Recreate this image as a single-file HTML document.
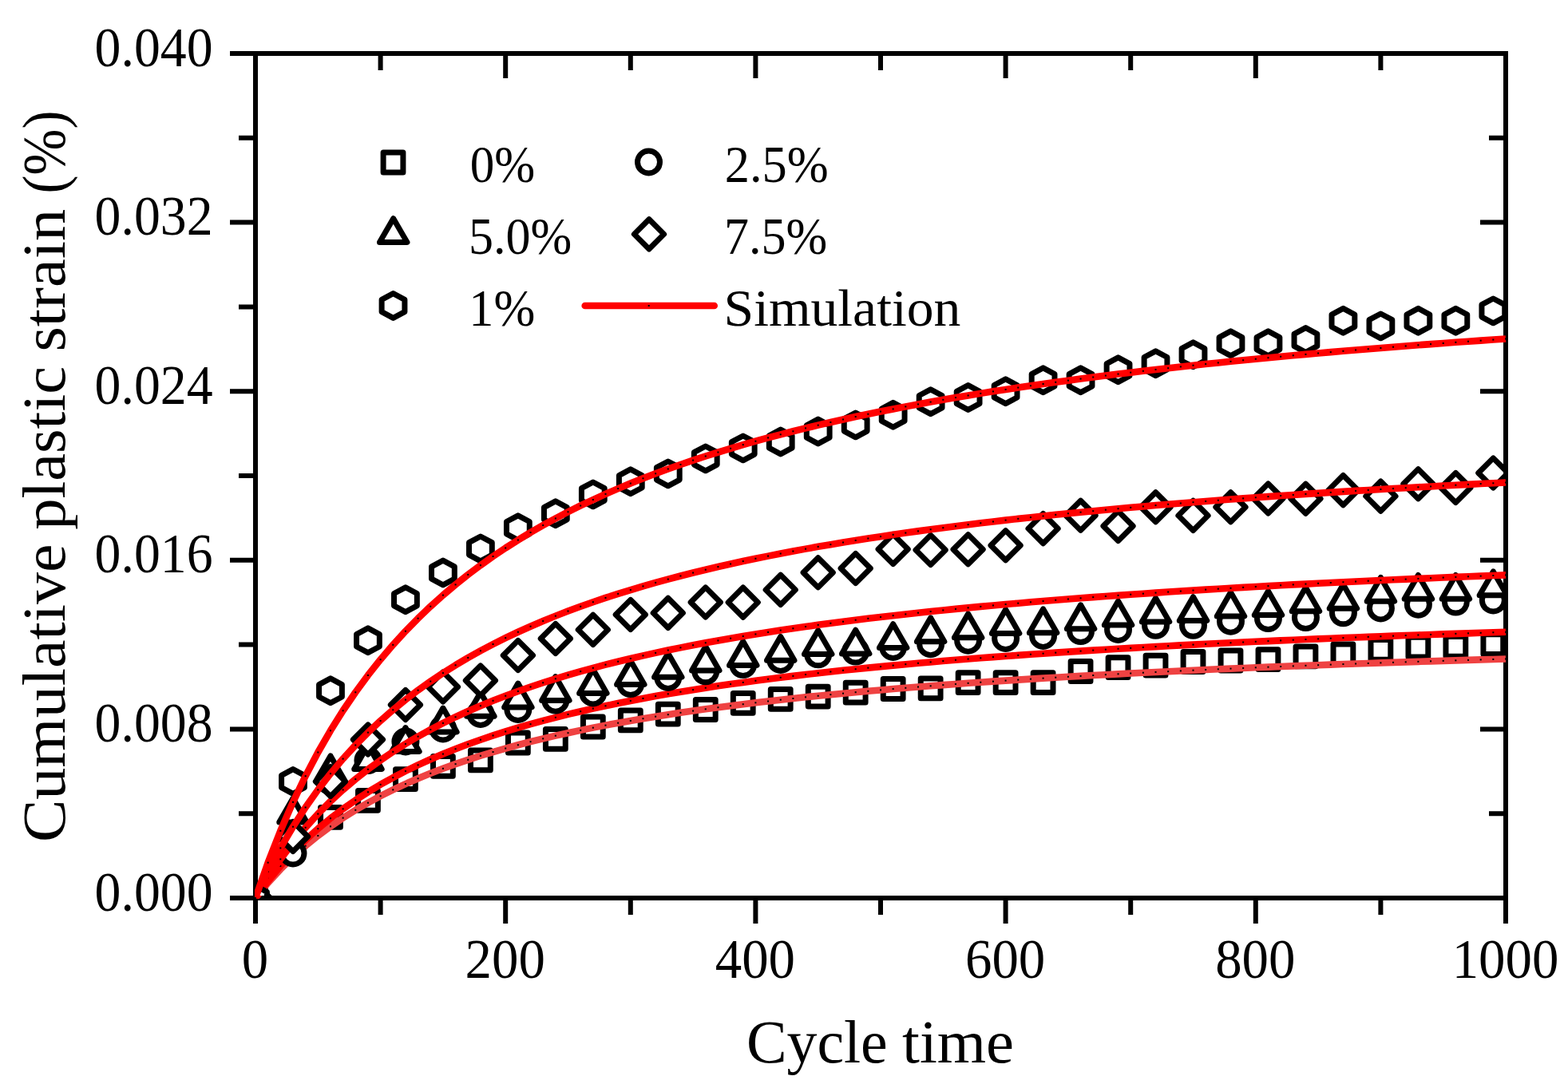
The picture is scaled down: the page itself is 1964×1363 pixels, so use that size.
<!DOCTYPE html>
<html><head><meta charset="utf-8"><title>Cumulative plastic strain vs cycle time</title>
<style>
html,body{margin:0;padding:0;background:#fff;}
body{width:1964px;height:1363px;overflow:hidden;}
svg{display:block;}
text{font-family:"Liberation Serif","DejaVu Serif",serif;fill:#000;}
</style></head><body>
<svg width="1964" height="1363" viewBox="0 0 1964 1363">
<defs><clipPath id="pc"><rect x="323" y="70" width="1560" height="1052"/></clipPath><clipPath id="lc"><rect x="319" y="60" width="1575" height="1065.5"/></clipPath></defs>
<rect width="1964" height="1363" fill="#fff"/>
<g stroke="#000" stroke-width="6" fill="none" stroke-linecap="butt"><path d="M320 64V1157M1886 64V1157M317 67H1889M288 1125H1889"/><path d="M288 1125H320M1854 1125H1886"/><path d="M288 913.4H320M1854 913.4H1886"/><path d="M288 701.8H320M1854 701.8H1886"/><path d="M288 490.2H320M1854 490.2H1886"/><path d="M288 278.6H320M1854 278.6H1886"/><path d="M288 67H320M1854 67H1886"/><path d="M299 1019.2H320M1865 1019.2H1886"/><path d="M299 807.6H320M1865 807.6H1886"/><path d="M299 596H320M1865 596H1886"/><path d="M299 384.4H320M1865 384.4H1886"/><path d="M299 172.8H320M1865 172.8H1886"/><path d="M320 1125V1157M320 67V98"/><path d="M633.2 1125V1157M633.2 67V98"/><path d="M946.4 1125V1157M946.4 67V98"/><path d="M1259.6 1125V1157M1259.6 67V98"/><path d="M1572.8 1125V1157M1572.8 67V98"/><path d="M1886 1125V1157M1886 67V98"/><path d="M476.6 1125V1146M476.6 67V88"/><path d="M789.8 1125V1146M789.8 67V88"/><path d="M1103 1125V1146M1103 67V88"/><path d="M1416.2 1125V1146M1416.2 67V88"/><path d="M1729.4 1125V1146M1729.4 67V88"/></g>
<g clip-path="url(#pc)" fill="#fff" stroke="#000" stroke-width="7" stroke-linejoin="round"><rect x="307.6" y="1112.6" width="24.8" height="24.8"/><rect x="354.58" y="1049.6" width="24.8" height="24.8"/><rect x="401.56" y="1011.5" width="24.8" height="24.8"/><rect x="448.54" y="990.4" width="24.8" height="24.8"/><rect x="495.52" y="963.7" width="24.8" height="24.8"/><rect x="542.5" y="947.5" width="24.8" height="24.8"/><rect x="589.48" y="940" width="24.8" height="24.8"/><rect x="636.46" y="918.1" width="24.8" height="24.8"/><rect x="683.44" y="913.5" width="24.8" height="24.8"/><rect x="730.42" y="898.1" width="24.8" height="24.8"/><rect x="777.4" y="889.9" width="24.8" height="24.8"/><rect x="824.38" y="882.3" width="24.8" height="24.8"/><rect x="871.36" y="876.6" width="24.8" height="24.8"/><rect x="918.34" y="868.5" width="24.8" height="24.8"/><rect x="965.32" y="863.4" width="24.8" height="24.8"/><rect x="1012.3" y="860.3" width="24.8" height="24.8"/><rect x="1059.28" y="855.3" width="24.8" height="24.8"/><rect x="1106.26" y="850.6" width="24.8" height="24.8"/><rect x="1153.24" y="849.9" width="24.8" height="24.8"/><rect x="1200.22" y="842.7" width="24.8" height="24.8"/><rect x="1247.2" y="842.7" width="24.8" height="24.8"/><rect x="1294.18" y="842.7" width="24.8" height="24.8"/><rect x="1341.16" y="828.6" width="24.8" height="24.8"/><rect x="1388.14" y="823.8" width="24.8" height="24.8"/><rect x="1435.12" y="821.3" width="24.8" height="24.8"/><rect x="1482.1" y="816.6" width="24.8" height="24.8"/><rect x="1529.08" y="815.1" width="24.8" height="24.8"/><rect x="1576.06" y="813.8" width="24.8" height="24.8"/><rect x="1623.04" y="809.9" width="24.8" height="24.8"/><rect x="1670.02" y="806.9" width="24.8" height="24.8"/><rect x="1717" y="801.5" width="24.8" height="24.8"/><rect x="1763.98" y="798.3" width="24.8" height="24.8"/><rect x="1810.96" y="797.4" width="24.8" height="24.8"/><rect x="1857.94" y="794.7" width="24.8" height="24.8"/></g>
<g clip-path="url(#lc)"><polyline fill="none" stroke-width="8.6" stroke-linejoin="round" stroke="#ef4242" points="320,1125 335.66,1106.03 351.32,1089 366.98,1073.62 382.64,1059.68 398.3,1046.97 413.96,1035.33 429.62,1024.65 445.28,1014.8 460.94,1005.69 476.6,997.25 492.26,989.39 507.92,982.07 523.58,975.22 539.24,968.81 554.9,962.8 570.56,957.14 586.22,951.81 601.88,946.78 617.54,942.02 633.2,937.52 648.86,933.25 664.52,929.2 680.18,925.34 695.84,921.67 711.5,918.18 727.16,914.84 742.82,911.66 758.48,908.61 774.14,905.7 789.8,902.91 805.46,900.23 821.12,897.66 836.78,895.19 852.44,892.82 868.1,890.54 883.76,888.34 899.42,886.23 915.08,884.19 930.74,882.22 946.4,880.32 962.06,878.49 977.72,876.71 993.38,875 1009.04,873.34 1024.7,871.74 1040.36,870.18 1056.02,868.68 1071.68,867.21 1087.34,865.8 1103,864.42 1118.66,863.09 1134.32,861.79 1149.98,860.53 1165.64,859.31 1181.3,858.12 1196.96,856.96 1212.62,855.83 1228.28,854.73 1243.94,853.66 1259.6,852.62 1275.26,851.61 1290.92,850.62 1306.58,849.65 1322.24,848.71 1337.9,847.8 1353.56,846.9 1369.22,846.02 1384.88,845.17 1400.54,844.34 1416.2,843.52 1431.86,842.72 1447.52,841.94 1463.18,841.18 1478.84,840.43 1494.5,839.7 1510.16,838.99 1525.82,838.29 1541.48,837.61 1557.14,836.94 1572.8,836.28 1588.46,835.64 1604.12,835.01 1619.78,834.39 1635.44,833.79 1651.1,833.19 1666.76,832.61 1682.42,832.04 1698.08,831.48 1713.74,830.93 1729.4,830.39 1745.06,829.86 1760.72,829.34 1776.38,828.83 1792.04,828.33 1807.7,827.84 1823.36,827.35 1839.02,826.88 1854.68,826.41 1870.34,825.95 1886,825.5"/><g fill="#000"><rect x="319" y="1124" width="2" height="2"/><rect x="334.66" y="1105.03" width="2" height="2"/><rect x="350.32" y="1088" width="2" height="2"/><rect x="365.98" y="1072.62" width="2" height="2"/><rect x="381.64" y="1058.68" width="2" height="2"/><rect x="397.3" y="1045.97" width="2" height="2"/><rect x="412.96" y="1034.33" width="2" height="2"/><rect x="428.62" y="1023.65" width="2" height="2"/><rect x="444.28" y="1013.8" width="2" height="2"/><rect x="459.94" y="1004.69" width="2" height="2"/><rect x="475.6" y="996.25" width="2" height="2"/><rect x="491.26" y="988.39" width="2" height="2"/><rect x="506.92" y="981.07" width="2" height="2"/><rect x="522.58" y="974.22" width="2" height="2"/><rect x="538.24" y="967.81" width="2" height="2"/><rect x="553.9" y="961.8" width="2" height="2"/><rect x="569.56" y="956.14" width="2" height="2"/><rect x="585.22" y="950.81" width="2" height="2"/><rect x="600.88" y="945.78" width="2" height="2"/><rect x="616.54" y="941.02" width="2" height="2"/><rect x="632.2" y="936.52" width="2" height="2"/><rect x="647.86" y="932.25" width="2" height="2"/><rect x="663.52" y="928.2" width="2" height="2"/><rect x="679.18" y="924.34" width="2" height="2"/><rect x="694.84" y="920.67" width="2" height="2"/><rect x="710.5" y="917.18" width="2" height="2"/><rect x="726.16" y="913.84" width="2" height="2"/><rect x="741.82" y="910.66" width="2" height="2"/><rect x="757.48" y="907.61" width="2" height="2"/><rect x="773.14" y="904.7" width="2" height="2"/><rect x="788.8" y="901.91" width="2" height="2"/><rect x="804.46" y="899.23" width="2" height="2"/><rect x="820.12" y="896.66" width="2" height="2"/><rect x="835.78" y="894.19" width="2" height="2"/><rect x="851.44" y="891.82" width="2" height="2"/><rect x="867.1" y="889.54" width="2" height="2"/><rect x="882.76" y="887.34" width="2" height="2"/><rect x="898.42" y="885.23" width="2" height="2"/><rect x="914.08" y="883.19" width="2" height="2"/><rect x="929.74" y="881.22" width="2" height="2"/><rect x="945.4" y="879.32" width="2" height="2"/><rect x="961.06" y="877.49" width="2" height="2"/><rect x="976.72" y="875.71" width="2" height="2"/><rect x="992.38" y="874" width="2" height="2"/><rect x="1008.04" y="872.34" width="2" height="2"/><rect x="1023.7" y="870.74" width="2" height="2"/><rect x="1039.36" y="869.18" width="2" height="2"/><rect x="1055.02" y="867.68" width="2" height="2"/><rect x="1070.68" y="866.21" width="2" height="2"/><rect x="1086.34" y="864.8" width="2" height="2"/><rect x="1102" y="863.42" width="2" height="2"/><rect x="1117.66" y="862.09" width="2" height="2"/><rect x="1133.32" y="860.79" width="2" height="2"/><rect x="1148.98" y="859.53" width="2" height="2"/><rect x="1164.64" y="858.31" width="2" height="2"/><rect x="1180.3" y="857.12" width="2" height="2"/><rect x="1195.96" y="855.96" width="2" height="2"/><rect x="1211.62" y="854.83" width="2" height="2"/><rect x="1227.28" y="853.73" width="2" height="2"/><rect x="1242.94" y="852.66" width="2" height="2"/><rect x="1258.6" y="851.62" width="2" height="2"/><rect x="1274.26" y="850.61" width="2" height="2"/><rect x="1289.92" y="849.62" width="2" height="2"/><rect x="1305.58" y="848.65" width="2" height="2"/><rect x="1321.24" y="847.71" width="2" height="2"/><rect x="1336.9" y="846.8" width="2" height="2"/><rect x="1352.56" y="845.9" width="2" height="2"/><rect x="1368.22" y="845.02" width="2" height="2"/><rect x="1383.88" y="844.17" width="2" height="2"/><rect x="1399.54" y="843.34" width="2" height="2"/><rect x="1415.2" y="842.52" width="2" height="2"/><rect x="1430.86" y="841.72" width="2" height="2"/><rect x="1446.52" y="840.94" width="2" height="2"/><rect x="1462.18" y="840.18" width="2" height="2"/><rect x="1477.84" y="839.43" width="2" height="2"/><rect x="1493.5" y="838.7" width="2" height="2"/><rect x="1509.16" y="837.99" width="2" height="2"/><rect x="1524.82" y="837.29" width="2" height="2"/><rect x="1540.48" y="836.61" width="2" height="2"/><rect x="1556.14" y="835.94" width="2" height="2"/><rect x="1571.8" y="835.28" width="2" height="2"/><rect x="1587.46" y="834.64" width="2" height="2"/><rect x="1603.12" y="834.01" width="2" height="2"/><rect x="1618.78" y="833.39" width="2" height="2"/><rect x="1634.44" y="832.79" width="2" height="2"/><rect x="1650.1" y="832.19" width="2" height="2"/><rect x="1665.76" y="831.61" width="2" height="2"/><rect x="1681.42" y="831.04" width="2" height="2"/><rect x="1697.08" y="830.48" width="2" height="2"/><rect x="1712.74" y="829.93" width="2" height="2"/><rect x="1728.4" y="829.39" width="2" height="2"/><rect x="1744.06" y="828.86" width="2" height="2"/><rect x="1759.72" y="828.34" width="2" height="2"/><rect x="1775.38" y="827.83" width="2" height="2"/><rect x="1791.04" y="827.33" width="2" height="2"/><rect x="1806.7" y="826.84" width="2" height="2"/><rect x="1822.36" y="826.35" width="2" height="2"/><rect x="1838.02" y="825.88" width="2" height="2"/><rect x="1853.68" y="825.41" width="2" height="2"/><rect x="1869.34" y="824.95" width="2" height="2"/><rect x="1885" y="824.5" width="2" height="2"/></g></g>
<g clip-path="url(#lc)"><polyline fill="none" stroke-width="8.6" stroke-linejoin="round" stroke="#ff0000" points="320,1125 335.66,1103.89 351.32,1084.95 366.98,1067.84 382.64,1052.33 398.3,1038.18 413.96,1025.24 429.62,1013.36 445.28,1002.4 460.94,992.27 476.6,982.87 492.26,974.13 507.92,965.98 523.58,958.37 539.24,951.24 554.9,944.54 570.56,938.25 586.22,932.32 601.88,926.72 617.54,921.43 633.2,916.42 648.86,911.67 664.52,907.16 680.18,902.88 695.84,898.8 711.5,894.91 727.16,891.2 742.82,887.65 758.48,884.27 774.14,881.02 789.8,877.92 805.46,874.94 821.12,872.08 836.78,869.33 852.44,866.7 868.1,864.16 883.76,861.71 899.42,859.36 915.08,857.09 930.74,854.9 946.4,852.79 962.06,850.75 977.72,848.78 993.38,846.87 1009.04,845.03 1024.7,843.24 1040.36,841.51 1056.02,839.83 1071.68,838.21 1087.34,836.63 1103,835.1 1118.66,833.62 1134.32,832.17 1149.98,830.77 1165.64,829.41 1181.3,828.09 1196.96,826.8 1212.62,825.54 1228.28,824.32 1243.94,823.13 1259.6,821.98 1275.26,820.85 1290.92,819.75 1306.58,818.67 1322.24,817.63 1337.9,816.6 1353.56,815.61 1369.22,814.63 1384.88,813.68 1400.54,812.75 1416.2,811.85 1431.86,810.96 1447.52,810.09 1463.18,809.24 1478.84,808.41 1494.5,807.6 1510.16,806.81 1525.82,806.03 1541.48,805.27 1557.14,804.52 1572.8,803.79 1588.46,803.08 1604.12,802.38 1619.78,801.69 1635.44,801.02 1651.1,800.36 1666.76,799.71 1682.42,799.07 1698.08,798.45 1713.74,797.84 1729.4,797.24 1745.06,796.65 1760.72,796.07 1776.38,795.5 1792.04,794.95 1807.7,794.4 1823.36,793.86 1839.02,793.33 1854.68,792.81 1870.34,792.3 1886,791.8"/><g fill="#000"><rect x="319" y="1124" width="2" height="2"/><rect x="334.66" y="1102.89" width="2" height="2"/><rect x="350.32" y="1083.95" width="2" height="2"/><rect x="365.98" y="1066.84" width="2" height="2"/><rect x="381.64" y="1051.33" width="2" height="2"/><rect x="397.3" y="1037.18" width="2" height="2"/><rect x="412.96" y="1024.24" width="2" height="2"/><rect x="428.62" y="1012.36" width="2" height="2"/><rect x="444.28" y="1001.4" width="2" height="2"/><rect x="459.94" y="991.27" width="2" height="2"/><rect x="475.6" y="981.87" width="2" height="2"/><rect x="491.26" y="973.13" width="2" height="2"/><rect x="506.92" y="964.98" width="2" height="2"/><rect x="522.58" y="957.37" width="2" height="2"/><rect x="538.24" y="950.24" width="2" height="2"/><rect x="553.9" y="943.54" width="2" height="2"/><rect x="569.56" y="937.25" width="2" height="2"/><rect x="585.22" y="931.32" width="2" height="2"/><rect x="600.88" y="925.72" width="2" height="2"/><rect x="616.54" y="920.43" width="2" height="2"/><rect x="632.2" y="915.42" width="2" height="2"/><rect x="647.86" y="910.67" width="2" height="2"/><rect x="663.52" y="906.16" width="2" height="2"/><rect x="679.18" y="901.88" width="2" height="2"/><rect x="694.84" y="897.8" width="2" height="2"/><rect x="710.5" y="893.91" width="2" height="2"/><rect x="726.16" y="890.2" width="2" height="2"/><rect x="741.82" y="886.65" width="2" height="2"/><rect x="757.48" y="883.27" width="2" height="2"/><rect x="773.14" y="880.02" width="2" height="2"/><rect x="788.8" y="876.92" width="2" height="2"/><rect x="804.46" y="873.94" width="2" height="2"/><rect x="820.12" y="871.08" width="2" height="2"/><rect x="835.78" y="868.33" width="2" height="2"/><rect x="851.44" y="865.7" width="2" height="2"/><rect x="867.1" y="863.16" width="2" height="2"/><rect x="882.76" y="860.71" width="2" height="2"/><rect x="898.42" y="858.36" width="2" height="2"/><rect x="914.08" y="856.09" width="2" height="2"/><rect x="929.74" y="853.9" width="2" height="2"/><rect x="945.4" y="851.79" width="2" height="2"/><rect x="961.06" y="849.75" width="2" height="2"/><rect x="976.72" y="847.78" width="2" height="2"/><rect x="992.38" y="845.87" width="2" height="2"/><rect x="1008.04" y="844.03" width="2" height="2"/><rect x="1023.7" y="842.24" width="2" height="2"/><rect x="1039.36" y="840.51" width="2" height="2"/><rect x="1055.02" y="838.83" width="2" height="2"/><rect x="1070.68" y="837.21" width="2" height="2"/><rect x="1086.34" y="835.63" width="2" height="2"/><rect x="1102" y="834.1" width="2" height="2"/><rect x="1117.66" y="832.62" width="2" height="2"/><rect x="1133.32" y="831.17" width="2" height="2"/><rect x="1148.98" y="829.77" width="2" height="2"/><rect x="1164.64" y="828.41" width="2" height="2"/><rect x="1180.3" y="827.09" width="2" height="2"/><rect x="1195.96" y="825.8" width="2" height="2"/><rect x="1211.62" y="824.54" width="2" height="2"/><rect x="1227.28" y="823.32" width="2" height="2"/><rect x="1242.94" y="822.13" width="2" height="2"/><rect x="1258.6" y="820.98" width="2" height="2"/><rect x="1274.26" y="819.85" width="2" height="2"/><rect x="1289.92" y="818.75" width="2" height="2"/><rect x="1305.58" y="817.67" width="2" height="2"/><rect x="1321.24" y="816.63" width="2" height="2"/><rect x="1336.9" y="815.6" width="2" height="2"/><rect x="1352.56" y="814.61" width="2" height="2"/><rect x="1368.22" y="813.63" width="2" height="2"/><rect x="1383.88" y="812.68" width="2" height="2"/><rect x="1399.54" y="811.75" width="2" height="2"/><rect x="1415.2" y="810.85" width="2" height="2"/><rect x="1430.86" y="809.96" width="2" height="2"/><rect x="1446.52" y="809.09" width="2" height="2"/><rect x="1462.18" y="808.24" width="2" height="2"/><rect x="1477.84" y="807.41" width="2" height="2"/><rect x="1493.5" y="806.6" width="2" height="2"/><rect x="1509.16" y="805.81" width="2" height="2"/><rect x="1524.82" y="805.03" width="2" height="2"/><rect x="1540.48" y="804.27" width="2" height="2"/><rect x="1556.14" y="803.52" width="2" height="2"/><rect x="1571.8" y="802.79" width="2" height="2"/><rect x="1587.46" y="802.08" width="2" height="2"/><rect x="1603.12" y="801.38" width="2" height="2"/><rect x="1618.78" y="800.69" width="2" height="2"/><rect x="1634.44" y="800.02" width="2" height="2"/><rect x="1650.1" y="799.36" width="2" height="2"/><rect x="1665.76" y="798.71" width="2" height="2"/><rect x="1681.42" y="798.07" width="2" height="2"/><rect x="1697.08" y="797.45" width="2" height="2"/><rect x="1712.74" y="796.84" width="2" height="2"/><rect x="1728.4" y="796.24" width="2" height="2"/><rect x="1744.06" y="795.65" width="2" height="2"/><rect x="1759.72" y="795.07" width="2" height="2"/><rect x="1775.38" y="794.5" width="2" height="2"/><rect x="1791.04" y="793.95" width="2" height="2"/><rect x="1806.7" y="793.4" width="2" height="2"/><rect x="1822.36" y="792.86" width="2" height="2"/><rect x="1838.02" y="792.33" width="2" height="2"/><rect x="1853.68" y="791.81" width="2" height="2"/><rect x="1869.34" y="791.3" width="2" height="2"/><rect x="1885" y="790.8" width="2" height="2"/></g></g>
<g clip-path="url(#pc)" fill="#fff" stroke="#000" stroke-width="7" stroke-linejoin="round"><circle cx="320" cy="1125" r="14"/><circle cx="366.98" cy="1069" r="14"/><circle cx="413.96" cy="979" r="14"/><circle cx="460.94" cy="952.6" r="14"/><circle cx="507.92" cy="929" r="14"/><circle cx="554.9" cy="913" r="14"/><circle cx="601.88" cy="894.4" r="14"/><circle cx="648.86" cy="888.5" r="14"/><circle cx="695.84" cy="877.2" r="14"/><circle cx="742.82" cy="867.9" r="14"/><circle cx="789.8" cy="856.6" r="14"/><circle cx="836.78" cy="848.4" r="14"/><circle cx="883.76" cy="840.8" r="14"/><circle cx="930.74" cy="832.6" r="14"/><circle cx="977.72" cy="826.4" r="14"/><circle cx="1024.7" cy="819.8" r="14"/><circle cx="1071.68" cy="816.1" r="14"/><circle cx="1118.66" cy="810.5" r="14"/><circle cx="1165.64" cy="806.7" r="14"/><circle cx="1212.62" cy="802.2" r="14"/><circle cx="1259.6" cy="799.5" r="14"/><circle cx="1306.58" cy="796.4" r="14"/><circle cx="1353.56" cy="790.6" r="14"/><circle cx="1400.54" cy="788.5" r="14"/><circle cx="1447.52" cy="783.3" r="14"/><circle cx="1494.5" cy="783.3" r="14"/><circle cx="1541.48" cy="778.2" r="14"/><circle cx="1588.46" cy="774.6" r="14"/><circle cx="1635.44" cy="773.6" r="14"/><circle cx="1682.42" cy="767.8" r="14"/><circle cx="1729.4" cy="761.9" r="14"/><circle cx="1776.38" cy="757.2" r="14"/><circle cx="1823.36" cy="754.1" r="14"/><circle cx="1870.34" cy="752" r="14"/></g>
<g clip-path="url(#pc)" fill="#fff" stroke="#000" stroke-width="7" stroke-linejoin="round"><path d="M320 1105.1L337.23 1134.95L302.77 1134.95Z"/><path d="M366.98 1000.1L384.21 1029.95L349.75 1029.95Z"/><path d="M413.96 946.9L431.19 976.75L396.73 976.75Z"/><path d="M460.94 933.6L478.17 963.45L443.71 963.45Z"/><path d="M507.92 911.6L525.15 941.45L490.69 941.45Z"/><path d="M554.9 887.1L572.13 916.95L537.67 916.95Z"/><path d="M601.88 867.5L619.11 897.35L584.65 897.35Z"/><path d="M648.86 856.1L666.09 885.95L631.63 885.95Z"/><path d="M695.84 847.6L713.07 877.45L678.61 877.45Z"/><path d="M742.82 838.6L760.05 868.45L725.59 868.45Z"/><path d="M789.8 827.7L807.03 857.55L772.57 857.55Z"/><path d="M836.78 818.4L854.01 848.25L819.55 848.25Z"/><path d="M883.76 810.1L900.99 839.95L866.53 839.95Z"/><path d="M930.74 803.6L947.97 833.45L913.51 833.45Z"/><path d="M977.72 797.5L994.95 827.35L960.49 827.35Z"/><path d="M1024.7 789.7L1041.93 819.55L1007.47 819.55Z"/><path d="M1071.68 789.2L1088.91 819.05L1054.45 819.05Z"/><path d="M1118.66 781.7L1135.89 811.55L1101.43 811.55Z"/><path d="M1165.64 773.9L1182.87 803.75L1148.41 803.75Z"/><path d="M1212.62 769L1229.85 798.85L1195.39 798.85Z"/><path d="M1259.6 763.6L1276.83 793.45L1242.37 793.45Z"/><path d="M1306.58 762.9L1323.81 792.75L1289.35 792.75Z"/><path d="M1353.56 757.8L1370.79 787.65L1336.33 787.65Z"/><path d="M1400.54 753.1L1417.77 782.95L1383.31 782.95Z"/><path d="M1447.52 749.2L1464.75 779.05L1430.29 779.05Z"/><path d="M1494.5 747.7L1511.73 777.55L1477.27 777.55Z"/><path d="M1541.48 742.1L1558.71 771.95L1524.25 771.95Z"/><path d="M1588.46 740.6L1605.69 770.45L1571.23 770.45Z"/><path d="M1635.44 735.9L1652.67 765.75L1618.21 765.75Z"/><path d="M1682.42 732.3L1699.65 762.15L1665.19 762.15Z"/><path d="M1729.4 723.4L1746.63 753.25L1712.17 753.25Z"/><path d="M1776.38 720.5L1793.61 750.35L1759.15 750.35Z"/><path d="M1823.36 720.5L1840.59 750.35L1806.13 750.35Z"/><path d="M1870.34 715.9L1887.57 745.75L1853.11 745.75Z"/></g>
<g clip-path="url(#lc)"><polyline fill="none" stroke-width="8.6" stroke-linejoin="round" stroke="#ff0000" points="320,1125 335.66,1099.37 351.32,1076.37 366.98,1055.6 382.64,1036.75 398.3,1019.58 413.96,1003.87 429.62,989.43 445.28,976.13 460.94,963.82 476.6,952.41 492.26,941.8 507.92,931.91 523.58,922.66 539.24,914 554.9,905.87 570.56,898.23 586.22,891.03 601.88,884.23 617.54,877.81 633.2,871.73 648.86,865.96 664.52,860.48 680.18,855.28 695.84,850.32 711.5,845.6 727.16,841.1 742.82,836.79 758.48,832.68 774.14,828.74 789.8,824.97 805.46,821.35 821.12,817.88 836.78,814.55 852.44,811.35 868.1,808.26 883.76,805.3 899.42,802.44 915.08,799.68 930.74,797.03 946.4,794.46 962.06,791.98 977.72,789.59 993.38,787.27 1009.04,785.03 1024.7,782.86 1040.36,780.76 1056.02,778.73 1071.68,776.75 1087.34,774.84 1103,772.98 1118.66,771.18 1134.32,769.43 1149.98,767.72 1165.64,766.07 1181.3,764.46 1196.96,762.9 1212.62,761.37 1228.28,759.89 1243.94,758.45 1259.6,757.04 1275.26,755.67 1290.92,754.33 1306.58,753.03 1322.24,751.76 1337.9,750.52 1353.56,749.31 1369.22,748.13 1384.88,746.97 1400.54,745.84 1416.2,744.74 1431.86,743.67 1447.52,742.61 1463.18,741.58 1478.84,740.58 1494.5,739.59 1510.16,738.63 1525.82,737.68 1541.48,736.76 1557.14,735.85 1572.8,734.96 1588.46,734.1 1604.12,733.25 1619.78,732.41 1635.44,731.59 1651.1,730.79 1666.76,730 1682.42,729.23 1698.08,728.48 1713.74,727.73 1729.4,727.01 1745.06,726.29 1760.72,725.59 1776.38,724.9 1792.04,724.22 1807.7,723.56 1823.36,722.9 1839.02,722.26 1854.68,721.63 1870.34,721.01 1886,720.4"/><g fill="#000"><rect x="319" y="1124" width="2" height="2"/><rect x="334.66" y="1098.37" width="2" height="2"/><rect x="350.32" y="1075.37" width="2" height="2"/><rect x="365.98" y="1054.6" width="2" height="2"/><rect x="381.64" y="1035.75" width="2" height="2"/><rect x="397.3" y="1018.58" width="2" height="2"/><rect x="412.96" y="1002.87" width="2" height="2"/><rect x="428.62" y="988.43" width="2" height="2"/><rect x="444.28" y="975.13" width="2" height="2"/><rect x="459.94" y="962.82" width="2" height="2"/><rect x="475.6" y="951.41" width="2" height="2"/><rect x="491.26" y="940.8" width="2" height="2"/><rect x="506.92" y="930.91" width="2" height="2"/><rect x="522.58" y="921.66" width="2" height="2"/><rect x="538.24" y="913" width="2" height="2"/><rect x="553.9" y="904.87" width="2" height="2"/><rect x="569.56" y="897.23" width="2" height="2"/><rect x="585.22" y="890.03" width="2" height="2"/><rect x="600.88" y="883.23" width="2" height="2"/><rect x="616.54" y="876.81" width="2" height="2"/><rect x="632.2" y="870.73" width="2" height="2"/><rect x="647.86" y="864.96" width="2" height="2"/><rect x="663.52" y="859.48" width="2" height="2"/><rect x="679.18" y="854.28" width="2" height="2"/><rect x="694.84" y="849.32" width="2" height="2"/><rect x="710.5" y="844.6" width="2" height="2"/><rect x="726.16" y="840.1" width="2" height="2"/><rect x="741.82" y="835.79" width="2" height="2"/><rect x="757.48" y="831.68" width="2" height="2"/><rect x="773.14" y="827.74" width="2" height="2"/><rect x="788.8" y="823.97" width="2" height="2"/><rect x="804.46" y="820.35" width="2" height="2"/><rect x="820.12" y="816.88" width="2" height="2"/><rect x="835.78" y="813.55" width="2" height="2"/><rect x="851.44" y="810.35" width="2" height="2"/><rect x="867.1" y="807.26" width="2" height="2"/><rect x="882.76" y="804.3" width="2" height="2"/><rect x="898.42" y="801.44" width="2" height="2"/><rect x="914.08" y="798.68" width="2" height="2"/><rect x="929.74" y="796.03" width="2" height="2"/><rect x="945.4" y="793.46" width="2" height="2"/><rect x="961.06" y="790.98" width="2" height="2"/><rect x="976.72" y="788.59" width="2" height="2"/><rect x="992.38" y="786.27" width="2" height="2"/><rect x="1008.04" y="784.03" width="2" height="2"/><rect x="1023.7" y="781.86" width="2" height="2"/><rect x="1039.36" y="779.76" width="2" height="2"/><rect x="1055.02" y="777.73" width="2" height="2"/><rect x="1070.68" y="775.75" width="2" height="2"/><rect x="1086.34" y="773.84" width="2" height="2"/><rect x="1102" y="771.98" width="2" height="2"/><rect x="1117.66" y="770.18" width="2" height="2"/><rect x="1133.32" y="768.43" width="2" height="2"/><rect x="1148.98" y="766.72" width="2" height="2"/><rect x="1164.64" y="765.07" width="2" height="2"/><rect x="1180.3" y="763.46" width="2" height="2"/><rect x="1195.96" y="761.9" width="2" height="2"/><rect x="1211.62" y="760.37" width="2" height="2"/><rect x="1227.28" y="758.89" width="2" height="2"/><rect x="1242.94" y="757.45" width="2" height="2"/><rect x="1258.6" y="756.04" width="2" height="2"/><rect x="1274.26" y="754.67" width="2" height="2"/><rect x="1289.92" y="753.33" width="2" height="2"/><rect x="1305.58" y="752.03" width="2" height="2"/><rect x="1321.24" y="750.76" width="2" height="2"/><rect x="1336.9" y="749.52" width="2" height="2"/><rect x="1352.56" y="748.31" width="2" height="2"/><rect x="1368.22" y="747.13" width="2" height="2"/><rect x="1383.88" y="745.97" width="2" height="2"/><rect x="1399.54" y="744.84" width="2" height="2"/><rect x="1415.2" y="743.74" width="2" height="2"/><rect x="1430.86" y="742.67" width="2" height="2"/><rect x="1446.52" y="741.61" width="2" height="2"/><rect x="1462.18" y="740.58" width="2" height="2"/><rect x="1477.84" y="739.58" width="2" height="2"/><rect x="1493.5" y="738.59" width="2" height="2"/><rect x="1509.16" y="737.63" width="2" height="2"/><rect x="1524.82" y="736.68" width="2" height="2"/><rect x="1540.48" y="735.76" width="2" height="2"/><rect x="1556.14" y="734.85" width="2" height="2"/><rect x="1571.8" y="733.96" width="2" height="2"/><rect x="1587.46" y="733.1" width="2" height="2"/><rect x="1603.12" y="732.25" width="2" height="2"/><rect x="1618.78" y="731.41" width="2" height="2"/><rect x="1634.44" y="730.59" width="2" height="2"/><rect x="1650.1" y="729.79" width="2" height="2"/><rect x="1665.76" y="729" width="2" height="2"/><rect x="1681.42" y="728.23" width="2" height="2"/><rect x="1697.08" y="727.48" width="2" height="2"/><rect x="1712.74" y="726.73" width="2" height="2"/><rect x="1728.4" y="726.01" width="2" height="2"/><rect x="1744.06" y="725.29" width="2" height="2"/><rect x="1759.72" y="724.59" width="2" height="2"/><rect x="1775.38" y="723.9" width="2" height="2"/><rect x="1791.04" y="723.22" width="2" height="2"/><rect x="1806.7" y="722.56" width="2" height="2"/><rect x="1822.36" y="721.9" width="2" height="2"/><rect x="1838.02" y="721.26" width="2" height="2"/><rect x="1853.68" y="720.63" width="2" height="2"/><rect x="1869.34" y="720.01" width="2" height="2"/><rect x="1885" y="719.4" width="2" height="2"/></g></g>
<g clip-path="url(#pc)" fill="#fff" stroke="#000" stroke-width="7" stroke-linejoin="round"><path d="M320 1106.4L338.6 1125L320 1143.6L301.4 1125Z"/><path d="M366.98 1029.4L385.58 1048L366.98 1066.6L348.38 1048Z"/><path d="M413.96 960.4L432.56 979L413.96 997.6L395.36 979Z"/><path d="M460.94 907.9L479.54 926.5L460.94 945.1L442.34 926.5Z"/><path d="M507.92 864.4L526.52 883L507.92 901.6L489.32 883Z"/><path d="M554.9 841.9L573.5 860.5L554.9 879.1L536.3 860.5Z"/><path d="M601.88 833.9L620.48 852.5L601.88 871.1L583.28 852.5Z"/><path d="M648.86 802.4L667.46 821L648.86 839.6L630.26 821Z"/><path d="M695.84 781.4L714.44 800L695.84 818.6L677.24 800Z"/><path d="M742.82 770.3L761.42 788.9L742.82 807.5L724.22 788.9Z"/><path d="M789.8 751.4L808.4 770L789.8 788.6L771.2 770Z"/><path d="M836.78 749.3L855.38 767.9L836.78 786.5L818.18 767.9Z"/><path d="M883.76 735.9L902.36 754.5L883.76 773.1L865.16 754.5Z"/><path d="M930.74 736L949.34 754.6L930.74 773.2L912.14 754.6Z"/><path d="M977.72 720.3L996.32 738.9L977.72 757.5L959.12 738.9Z"/><path d="M1024.7 698.7L1043.3 717.3L1024.7 735.9L1006.1 717.3Z"/><path d="M1071.68 693.4L1090.28 712L1071.68 730.6L1053.08 712Z"/><path d="M1118.66 669.4L1137.26 688L1118.66 706.6L1100.06 688Z"/><path d="M1165.64 670.4L1184.24 689L1165.64 707.6L1147.04 689Z"/><path d="M1212.62 669.6L1231.22 688.2L1212.62 706.8L1194.02 688.2Z"/><path d="M1259.6 664.6L1278.2 683.2L1259.6 701.8L1241 683.2Z"/><path d="M1306.58 643.5L1325.18 662.1L1306.58 680.7L1287.98 662.1Z"/><path d="M1353.56 627.2L1372.16 645.8L1353.56 664.4L1334.96 645.8Z"/><path d="M1400.54 640.4L1419.14 659L1400.54 677.6L1381.94 659Z"/><path d="M1447.52 616.7L1466.12 635.3L1447.52 653.9L1428.92 635.3Z"/><path d="M1494.5 627.3L1513.1 645.9L1494.5 664.5L1475.9 645.9Z"/><path d="M1541.48 616.7L1560.08 635.3L1541.48 653.9L1522.88 635.3Z"/><path d="M1588.46 605.9L1607.06 624.5L1588.46 643.1L1569.86 624.5Z"/><path d="M1635.44 606.1L1654.04 624.7L1635.44 643.3L1616.84 624.7Z"/><path d="M1682.42 595.5L1701.02 614.1L1682.42 632.7L1663.82 614.1Z"/><path d="M1729.4 603L1748 621.6L1729.4 640.2L1710.8 621.6Z"/><path d="M1776.38 587.6L1794.98 606.2L1776.38 624.8L1757.78 606.2Z"/><path d="M1823.36 592.4L1841.96 611L1823.36 629.6L1804.76 611Z"/><path d="M1870.34 573.9L1888.94 592.5L1870.34 611.1L1851.74 592.5Z"/></g>
<g clip-path="url(#lc)"><polyline fill="none" stroke-width="8.6" stroke-linejoin="round" stroke="#ff0000" points="320,1125 335.66,1092.03 351.32,1062.43 366.98,1035.72 382.64,1011.47 398.3,989.38 413.96,969.17 429.62,950.6 445.28,933.48 460.94,917.65 476.6,902.98 492.26,889.32 507.92,876.6 523.58,864.7 539.24,853.56 554.9,843.11 570.56,833.27 586.22,824.01 601.88,815.26 617.54,807 633.2,799.17 648.86,791.76 664.52,784.71 680.18,778.02 695.84,771.64 711.5,765.57 727.16,759.77 742.82,754.23 758.48,748.94 774.14,743.88 789.8,739.02 805.46,734.37 821.12,729.91 836.78,725.62 852.44,721.5 868.1,717.53 883.76,713.72 899.42,710.04 915.08,706.49 930.74,703.07 946.4,699.77 962.06,696.59 977.72,693.51 993.38,690.53 1009.04,687.64 1024.7,684.85 1040.36,682.15 1056.02,679.53 1071.68,677 1087.34,674.53 1103,672.14 1118.66,669.82 1134.32,667.57 1149.98,665.38 1165.64,663.25 1181.3,661.18 1196.96,659.17 1212.62,657.21 1228.28,655.3 1243.94,653.45 1259.6,651.64 1275.26,649.87 1290.92,648.16 1306.58,646.48 1322.24,644.84 1337.9,643.25 1353.56,641.69 1369.22,640.17 1384.88,638.68 1400.54,637.23 1416.2,635.82 1431.86,634.43 1447.52,633.08 1463.18,631.75 1478.84,630.45 1494.5,629.19 1510.16,627.95 1525.82,626.73 1541.48,625.54 1557.14,624.38 1572.8,623.24 1588.46,622.12 1604.12,621.02 1619.78,619.95 1635.44,618.9 1651.1,617.87 1666.76,616.86 1682.42,615.86 1698.08,614.89 1713.74,613.94 1729.4,613 1745.06,612.08 1760.72,611.17 1776.38,610.29 1792.04,609.42 1807.7,608.56 1823.36,607.72 1839.02,606.89 1854.68,606.08 1870.34,605.28 1886,604.5"/><g fill="#000"><rect x="319" y="1124" width="2" height="2"/><rect x="334.66" y="1091.03" width="2" height="2"/><rect x="350.32" y="1061.43" width="2" height="2"/><rect x="365.98" y="1034.72" width="2" height="2"/><rect x="381.64" y="1010.47" width="2" height="2"/><rect x="397.3" y="988.38" width="2" height="2"/><rect x="412.96" y="968.17" width="2" height="2"/><rect x="428.62" y="949.6" width="2" height="2"/><rect x="444.28" y="932.48" width="2" height="2"/><rect x="459.94" y="916.65" width="2" height="2"/><rect x="475.6" y="901.98" width="2" height="2"/><rect x="491.26" y="888.32" width="2" height="2"/><rect x="506.92" y="875.6" width="2" height="2"/><rect x="522.58" y="863.7" width="2" height="2"/><rect x="538.24" y="852.56" width="2" height="2"/><rect x="553.9" y="842.11" width="2" height="2"/><rect x="569.56" y="832.27" width="2" height="2"/><rect x="585.22" y="823.01" width="2" height="2"/><rect x="600.88" y="814.26" width="2" height="2"/><rect x="616.54" y="806" width="2" height="2"/><rect x="632.2" y="798.17" width="2" height="2"/><rect x="647.86" y="790.76" width="2" height="2"/><rect x="663.52" y="783.71" width="2" height="2"/><rect x="679.18" y="777.02" width="2" height="2"/><rect x="694.84" y="770.64" width="2" height="2"/><rect x="710.5" y="764.57" width="2" height="2"/><rect x="726.16" y="758.77" width="2" height="2"/><rect x="741.82" y="753.23" width="2" height="2"/><rect x="757.48" y="747.94" width="2" height="2"/><rect x="773.14" y="742.88" width="2" height="2"/><rect x="788.8" y="738.02" width="2" height="2"/><rect x="804.46" y="733.37" width="2" height="2"/><rect x="820.12" y="728.91" width="2" height="2"/><rect x="835.78" y="724.62" width="2" height="2"/><rect x="851.44" y="720.5" width="2" height="2"/><rect x="867.1" y="716.53" width="2" height="2"/><rect x="882.76" y="712.72" width="2" height="2"/><rect x="898.42" y="709.04" width="2" height="2"/><rect x="914.08" y="705.49" width="2" height="2"/><rect x="929.74" y="702.07" width="2" height="2"/><rect x="945.4" y="698.77" width="2" height="2"/><rect x="961.06" y="695.59" width="2" height="2"/><rect x="976.72" y="692.51" width="2" height="2"/><rect x="992.38" y="689.53" width="2" height="2"/><rect x="1008.04" y="686.64" width="2" height="2"/><rect x="1023.7" y="683.85" width="2" height="2"/><rect x="1039.36" y="681.15" width="2" height="2"/><rect x="1055.02" y="678.53" width="2" height="2"/><rect x="1070.68" y="676" width="2" height="2"/><rect x="1086.34" y="673.53" width="2" height="2"/><rect x="1102" y="671.14" width="2" height="2"/><rect x="1117.66" y="668.82" width="2" height="2"/><rect x="1133.32" y="666.57" width="2" height="2"/><rect x="1148.98" y="664.38" width="2" height="2"/><rect x="1164.64" y="662.25" width="2" height="2"/><rect x="1180.3" y="660.18" width="2" height="2"/><rect x="1195.96" y="658.17" width="2" height="2"/><rect x="1211.62" y="656.21" width="2" height="2"/><rect x="1227.28" y="654.3" width="2" height="2"/><rect x="1242.94" y="652.45" width="2" height="2"/><rect x="1258.6" y="650.64" width="2" height="2"/><rect x="1274.26" y="648.87" width="2" height="2"/><rect x="1289.92" y="647.16" width="2" height="2"/><rect x="1305.58" y="645.48" width="2" height="2"/><rect x="1321.24" y="643.84" width="2" height="2"/><rect x="1336.9" y="642.25" width="2" height="2"/><rect x="1352.56" y="640.69" width="2" height="2"/><rect x="1368.22" y="639.17" width="2" height="2"/><rect x="1383.88" y="637.68" width="2" height="2"/><rect x="1399.54" y="636.23" width="2" height="2"/><rect x="1415.2" y="634.82" width="2" height="2"/><rect x="1430.86" y="633.43" width="2" height="2"/><rect x="1446.52" y="632.08" width="2" height="2"/><rect x="1462.18" y="630.75" width="2" height="2"/><rect x="1477.84" y="629.45" width="2" height="2"/><rect x="1493.5" y="628.19" width="2" height="2"/><rect x="1509.16" y="626.95" width="2" height="2"/><rect x="1524.82" y="625.73" width="2" height="2"/><rect x="1540.48" y="624.54" width="2" height="2"/><rect x="1556.14" y="623.38" width="2" height="2"/><rect x="1571.8" y="622.24" width="2" height="2"/><rect x="1587.46" y="621.12" width="2" height="2"/><rect x="1603.12" y="620.02" width="2" height="2"/><rect x="1618.78" y="618.95" width="2" height="2"/><rect x="1634.44" y="617.9" width="2" height="2"/><rect x="1650.1" y="616.87" width="2" height="2"/><rect x="1665.76" y="615.86" width="2" height="2"/><rect x="1681.42" y="614.86" width="2" height="2"/><rect x="1697.08" y="613.89" width="2" height="2"/><rect x="1712.74" y="612.94" width="2" height="2"/><rect x="1728.4" y="612" width="2" height="2"/><rect x="1744.06" y="611.08" width="2" height="2"/><rect x="1759.72" y="610.17" width="2" height="2"/><rect x="1775.38" y="609.29" width="2" height="2"/><rect x="1791.04" y="608.42" width="2" height="2"/><rect x="1806.7" y="607.56" width="2" height="2"/><rect x="1822.36" y="606.72" width="2" height="2"/><rect x="1838.02" y="605.89" width="2" height="2"/><rect x="1853.68" y="605.08" width="2" height="2"/><rect x="1869.34" y="604.28" width="2" height="2"/><rect x="1885" y="603.5" width="2" height="2"/></g></g>
<g clip-path="url(#pc)" fill="#fff" stroke="#000" stroke-width="7" stroke-linejoin="round"><path d="M320 1109.6L334.4 1117.3L334.4 1132.7L320 1140.4L305.6 1132.7L305.6 1117.3Z"/><path d="M366.98 963.6L381.38 971.3L381.38 986.7L366.98 994.4L352.58 986.7L352.58 971.3Z"/><path d="M413.96 849.9L428.36 857.6L428.36 873L413.96 880.7L399.56 873L399.56 857.6Z"/><path d="M460.94 786.9L475.34 794.6L475.34 810L460.94 817.7L446.54 810L446.54 794.6Z"/><path d="M507.92 735.8L522.32 743.5L522.32 758.9L507.92 766.6L493.52 758.9L493.52 743.5Z"/><path d="M554.9 702.1L569.3 709.8L569.3 725.2L554.9 732.9L540.5 725.2L540.5 709.8Z"/><path d="M601.88 672L616.28 679.7L616.28 695.1L601.88 702.8L587.48 695.1L587.48 679.7Z"/><path d="M648.86 645.8L663.26 653.5L663.26 668.9L648.86 676.6L634.46 668.9L634.46 653.5Z"/><path d="M695.84 627.9L710.24 635.6L710.24 651L695.84 658.7L681.44 651L681.44 635.6Z"/><path d="M742.82 604L757.22 611.7L757.22 627.1L742.82 634.8L728.42 627.1L728.42 611.7Z"/><path d="M789.8 587.9L804.2 595.6L804.2 611L789.8 618.7L775.4 611L775.4 595.6Z"/><path d="M836.78 578L851.18 585.7L851.18 601.1L836.78 608.8L822.38 601.1L822.38 585.7Z"/><path d="M883.76 559L898.16 566.7L898.16 582.1L883.76 589.8L869.36 582.1L869.36 566.7Z"/><path d="M930.74 546L945.14 553.7L945.14 569.1L930.74 576.8L916.34 569.1L916.34 553.7Z"/><path d="M977.72 538.1L992.12 545.8L992.12 561.2L977.72 568.9L963.32 561.2L963.32 545.8Z"/><path d="M1024.7 525.1L1039.1 532.8L1039.1 548.2L1024.7 555.9L1010.3 548.2L1010.3 532.8Z"/><path d="M1071.68 517L1086.08 524.7L1086.08 540.1L1071.68 547.8L1057.28 540.1L1057.28 524.7Z"/><path d="M1118.66 504.3L1133.06 512L1133.06 527.4L1118.66 535.1L1104.26 527.4L1104.26 512Z"/><path d="M1165.64 487.8L1180.04 495.5L1180.04 510.9L1165.64 518.6L1151.24 510.9L1151.24 495.5Z"/><path d="M1212.62 482.6L1227.02 490.3L1227.02 505.7L1212.62 513.4L1198.22 505.7L1198.22 490.3Z"/><path d="M1259.6 474.8L1274 482.5L1274 497.9L1259.6 505.6L1245.2 497.9L1245.2 482.5Z"/><path d="M1306.58 460.9L1320.98 468.6L1320.98 484L1306.58 491.7L1292.18 484L1292.18 468.6Z"/><path d="M1353.56 460.9L1367.96 468.6L1367.96 484L1353.56 491.7L1339.16 484L1339.16 468.6Z"/><path d="M1400.54 447.9L1414.94 455.6L1414.94 471L1400.54 478.7L1386.14 471L1386.14 455.6Z"/><path d="M1447.52 439.8L1461.92 447.5L1461.92 462.9L1447.52 470.6L1433.12 462.9L1433.12 447.5Z"/><path d="M1494.5 428.9L1508.9 436.6L1508.9 452L1494.5 459.7L1480.1 452L1480.1 436.6Z"/><path d="M1541.48 414.9L1555.88 422.6L1555.88 438L1541.48 445.7L1527.08 438L1527.08 422.6Z"/><path d="M1588.46 414.9L1602.86 422.6L1602.86 438L1588.46 445.7L1574.06 438L1574.06 422.6Z"/><path d="M1635.44 410.6L1649.84 418.3L1649.84 433.7L1635.44 441.4L1621.04 433.7L1621.04 418.3Z"/><path d="M1682.42 386.4L1696.82 394.1L1696.82 409.5L1682.42 417.2L1668.02 409.5L1668.02 394.1Z"/><path d="M1729.4 393L1743.8 400.7L1743.8 416.1L1729.4 423.8L1715 416.1L1715 400.7Z"/><path d="M1776.38 386.4L1790.78 394.1L1790.78 409.5L1776.38 417.2L1761.98 409.5L1761.98 394.1Z"/><path d="M1823.36 386.4L1837.76 394.1L1837.76 409.5L1823.36 417.2L1808.96 409.5L1808.96 394.1Z"/><path d="M1870.34 374L1884.74 381.7L1884.74 397.1L1870.34 404.8L1855.94 397.1L1855.94 381.7Z"/></g>
<g clip-path="url(#lc)"><polyline fill="none" stroke-width="8.6" stroke-linejoin="round" stroke="#ff0000" points="320,1125 335.66,1080.63 351.32,1040.8 366.98,1004.84 382.64,972.22 398.3,942.48 413.96,915.28 429.62,890.29 445.28,867.25 460.94,845.95 476.6,826.19 492.26,807.82 507.92,790.69 523.58,774.69 539.24,759.69 554.9,745.62 570.56,732.39 586.22,719.92 601.88,708.15 617.54,697.03 633.2,686.5 648.86,676.51 664.52,667.03 680.18,658.02 695.84,649.44 711.5,641.27 727.16,633.47 742.82,626.02 758.48,618.89 774.14,612.08 789.8,605.55 805.46,599.28 821.12,593.28 836.78,587.5 852.44,581.96 868.1,576.62 883.76,571.48 899.42,566.54 915.08,561.77 930.74,557.16 946.4,552.72 962.06,548.43 977.72,544.29 993.38,540.28 1009.04,536.4 1024.7,532.64 1040.36,529.01 1056.02,525.48 1071.68,522.07 1087.34,518.75 1103,515.54 1118.66,512.41 1134.32,509.38 1149.98,506.44 1165.64,503.57 1181.3,500.79 1196.96,498.08 1212.62,495.44 1228.28,492.87 1243.94,490.37 1259.6,487.94 1275.26,485.57 1290.92,483.25 1306.58,481 1322.24,478.79 1337.9,476.65 1353.56,474.55 1369.22,472.5 1384.88,470.51 1400.54,468.55 1416.2,466.65 1431.86,464.78 1447.52,462.96 1463.18,461.17 1478.84,459.43 1494.5,457.72 1510.16,456.05 1525.82,454.42 1541.48,452.82 1557.14,451.25 1572.8,449.72 1588.46,448.21 1604.12,446.74 1619.78,445.29 1635.44,443.88 1651.1,442.49 1666.76,441.13 1682.42,439.79 1698.08,438.48 1713.74,437.2 1729.4,435.94 1745.06,434.7 1760.72,433.48 1776.38,432.29 1792.04,431.12 1807.7,429.96 1823.36,428.83 1839.02,427.72 1854.68,426.63 1870.34,425.56 1886,424.5"/><g fill="#000"><rect x="319" y="1124" width="2" height="2"/><rect x="334.66" y="1079.63" width="2" height="2"/><rect x="350.32" y="1039.8" width="2" height="2"/><rect x="365.98" y="1003.84" width="2" height="2"/><rect x="381.64" y="971.22" width="2" height="2"/><rect x="397.3" y="941.48" width="2" height="2"/><rect x="412.96" y="914.28" width="2" height="2"/><rect x="428.62" y="889.29" width="2" height="2"/><rect x="444.28" y="866.25" width="2" height="2"/><rect x="459.94" y="844.95" width="2" height="2"/><rect x="475.6" y="825.19" width="2" height="2"/><rect x="491.26" y="806.82" width="2" height="2"/><rect x="506.92" y="789.69" width="2" height="2"/><rect x="522.58" y="773.69" width="2" height="2"/><rect x="538.24" y="758.69" width="2" height="2"/><rect x="553.9" y="744.62" width="2" height="2"/><rect x="569.56" y="731.39" width="2" height="2"/><rect x="585.22" y="718.92" width="2" height="2"/><rect x="600.88" y="707.15" width="2" height="2"/><rect x="616.54" y="696.03" width="2" height="2"/><rect x="632.2" y="685.5" width="2" height="2"/><rect x="647.86" y="675.51" width="2" height="2"/><rect x="663.52" y="666.03" width="2" height="2"/><rect x="679.18" y="657.02" width="2" height="2"/><rect x="694.84" y="648.44" width="2" height="2"/><rect x="710.5" y="640.27" width="2" height="2"/><rect x="726.16" y="632.47" width="2" height="2"/><rect x="741.82" y="625.02" width="2" height="2"/><rect x="757.48" y="617.89" width="2" height="2"/><rect x="773.14" y="611.08" width="2" height="2"/><rect x="788.8" y="604.55" width="2" height="2"/><rect x="804.46" y="598.28" width="2" height="2"/><rect x="820.12" y="592.28" width="2" height="2"/><rect x="835.78" y="586.5" width="2" height="2"/><rect x="851.44" y="580.96" width="2" height="2"/><rect x="867.1" y="575.62" width="2" height="2"/><rect x="882.76" y="570.48" width="2" height="2"/><rect x="898.42" y="565.54" width="2" height="2"/><rect x="914.08" y="560.77" width="2" height="2"/><rect x="929.74" y="556.16" width="2" height="2"/><rect x="945.4" y="551.72" width="2" height="2"/><rect x="961.06" y="547.43" width="2" height="2"/><rect x="976.72" y="543.29" width="2" height="2"/><rect x="992.38" y="539.28" width="2" height="2"/><rect x="1008.04" y="535.4" width="2" height="2"/><rect x="1023.7" y="531.64" width="2" height="2"/><rect x="1039.36" y="528.01" width="2" height="2"/><rect x="1055.02" y="524.48" width="2" height="2"/><rect x="1070.68" y="521.07" width="2" height="2"/><rect x="1086.34" y="517.75" width="2" height="2"/><rect x="1102" y="514.54" width="2" height="2"/><rect x="1117.66" y="511.41" width="2" height="2"/><rect x="1133.32" y="508.38" width="2" height="2"/><rect x="1148.98" y="505.44" width="2" height="2"/><rect x="1164.64" y="502.57" width="2" height="2"/><rect x="1180.3" y="499.79" width="2" height="2"/><rect x="1195.96" y="497.08" width="2" height="2"/><rect x="1211.62" y="494.44" width="2" height="2"/><rect x="1227.28" y="491.87" width="2" height="2"/><rect x="1242.94" y="489.37" width="2" height="2"/><rect x="1258.6" y="486.94" width="2" height="2"/><rect x="1274.26" y="484.57" width="2" height="2"/><rect x="1289.92" y="482.25" width="2" height="2"/><rect x="1305.58" y="480" width="2" height="2"/><rect x="1321.24" y="477.79" width="2" height="2"/><rect x="1336.9" y="475.65" width="2" height="2"/><rect x="1352.56" y="473.55" width="2" height="2"/><rect x="1368.22" y="471.5" width="2" height="2"/><rect x="1383.88" y="469.51" width="2" height="2"/><rect x="1399.54" y="467.55" width="2" height="2"/><rect x="1415.2" y="465.65" width="2" height="2"/><rect x="1430.86" y="463.78" width="2" height="2"/><rect x="1446.52" y="461.96" width="2" height="2"/><rect x="1462.18" y="460.17" width="2" height="2"/><rect x="1477.84" y="458.43" width="2" height="2"/><rect x="1493.5" y="456.72" width="2" height="2"/><rect x="1509.16" y="455.05" width="2" height="2"/><rect x="1524.82" y="453.42" width="2" height="2"/><rect x="1540.48" y="451.82" width="2" height="2"/><rect x="1556.14" y="450.25" width="2" height="2"/><rect x="1571.8" y="448.72" width="2" height="2"/><rect x="1587.46" y="447.21" width="2" height="2"/><rect x="1603.12" y="445.74" width="2" height="2"/><rect x="1618.78" y="444.29" width="2" height="2"/><rect x="1634.44" y="442.88" width="2" height="2"/><rect x="1650.1" y="441.49" width="2" height="2"/><rect x="1665.76" y="440.13" width="2" height="2"/><rect x="1681.42" y="438.79" width="2" height="2"/><rect x="1697.08" y="437.48" width="2" height="2"/><rect x="1712.74" y="436.2" width="2" height="2"/><rect x="1728.4" y="434.94" width="2" height="2"/><rect x="1744.06" y="433.7" width="2" height="2"/><rect x="1759.72" y="432.48" width="2" height="2"/><rect x="1775.38" y="431.29" width="2" height="2"/><rect x="1791.04" y="430.12" width="2" height="2"/><rect x="1806.7" y="428.96" width="2" height="2"/><rect x="1822.36" y="427.83" width="2" height="2"/><rect x="1838.02" y="426.72" width="2" height="2"/><rect x="1853.68" y="425.63" width="2" height="2"/><rect x="1869.34" y="424.56" width="2" height="2"/><rect x="1885" y="423.5" width="2" height="2"/></g></g>
<g font-size="70"><text x="118.6" y="1140.5" textLength="148" lengthAdjust="spacingAndGlyphs">0.000</text><text x="118.6" y="928.9" textLength="148" lengthAdjust="spacingAndGlyphs">0.008</text><text x="118.6" y="717.3" textLength="148" lengthAdjust="spacingAndGlyphs">0.016</text><text x="118.6" y="505.7" textLength="148" lengthAdjust="spacingAndGlyphs">0.024</text><text x="118.6" y="294.1" textLength="148" lengthAdjust="spacingAndGlyphs">0.032</text><text x="118.6" y="82.5" textLength="148" lengthAdjust="spacingAndGlyphs">0.040</text><text x="319.5" y="1225" text-anchor="middle" textLength="33.42" lengthAdjust="spacingAndGlyphs">0</text><text x="632.7" y="1225" text-anchor="middle" textLength="100.27" lengthAdjust="spacingAndGlyphs">200</text><text x="945.9" y="1225" text-anchor="middle" textLength="100.27" lengthAdjust="spacingAndGlyphs">400</text><text x="1259.1" y="1225" text-anchor="middle" textLength="100.27" lengthAdjust="spacingAndGlyphs">600</text><text x="1572.3" y="1225" text-anchor="middle" textLength="100.27" lengthAdjust="spacingAndGlyphs">800</text><text x="1885.5" y="1225" text-anchor="middle" textLength="133.7" lengthAdjust="spacingAndGlyphs">1000</text></g>
<g font-size="77"><text x="934.9" y="1330.6" textLength="176.9" lengthAdjust="spacingAndGlyphs">Cycle</text><text x="1130" y="1330.6" textLength="140.1" lengthAdjust="spacingAndGlyphs">time</text><g transform="translate(80.8,0) rotate(-90)"><text x="-1055.1" y="0" textLength="373.7" lengthAdjust="spacingAndGlyphs">Cumulative</text><text x="-663.8" y="0" textLength="204.8" lengthAdjust="spacingAndGlyphs">plastic</text><text x="-440.6" y="0" textLength="179" lengthAdjust="spacingAndGlyphs">strain</text><text x="-242.5" y="0" textLength="104" lengthAdjust="spacingAndGlyphs">(%)</text></g></g>
<g fill="#fff" stroke="#000" stroke-width="7" stroke-linejoin="round"><rect x="480.1" y="191.1" width="24.8" height="24.8"/><circle cx="812.5" cy="203" r="14"/><path d="M492.7 273.7L509.93 303.55L475.47 303.55Z"/><path d="M813 274.8L831.6 293.4L813 312L794.4 293.4Z"/><path d="M492.5 367.6L506.9 375.3L506.9 390.7L492.5 398.4L478.1 390.7L478.1 375.3Z"/></g><path d="M732.7 383H894.7" stroke="#ff0000" stroke-width="8.6" stroke-linecap="round"/><rect x="811.7" y="382" width="2" height="2" fill="#000"/><g font-size="65.5"><text x="588.8" y="228" textLength="81.4" lengthAdjust="spacingAndGlyphs">0%</text><text x="907.8" y="228" textLength="129.9" lengthAdjust="spacingAndGlyphs">2.5%</text><text x="586.9" y="318" textLength="129.3" lengthAdjust="spacingAndGlyphs">5.0%</text><text x="906.9" y="318" textLength="129.3" lengthAdjust="spacingAndGlyphs">7.5%</text><text x="587.3" y="407.5" textLength="82.9" lengthAdjust="spacingAndGlyphs">1%</text><text x="906.6" y="407.5" textLength="296.7" lengthAdjust="spacingAndGlyphs">Simulation</text></g>
</svg></body></html>
